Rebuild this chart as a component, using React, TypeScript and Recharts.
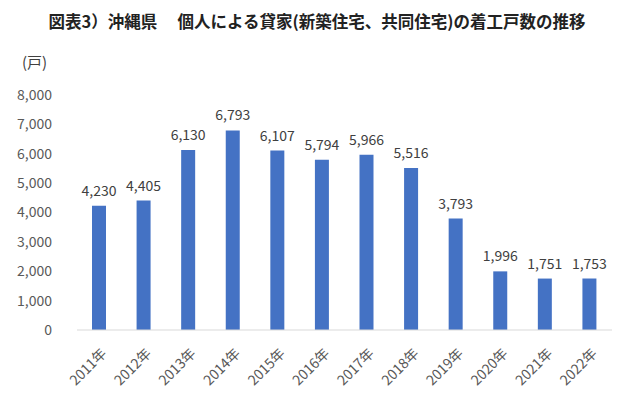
import React from 'react';
import { BarChart, Bar, XAxis, YAxis, LabelList } from 'recharts';

const years = ['2011年', '2012年', '2013年', '2014年', '2015年', '2016年', '2017年', '2018年', '2019年', '2020年', '2021年', '2022年'];
const starts = [4230, 4405, 6130, 6793, 6107, 5794, 5966, 5516, 3793, 1996, 1751, 1753];
const yTicks = [0, 1000, 2000, 3000, 4000, 5000, 6000, 7000, 8000];

const data = years.map((year, i) => ({ year, value: starts[i] }));

const font = '"Noto Sans CJK JP", "Noto Sans", sans-serif';

const XTick = (props: any) => {
  const { x, y, payload } = props;
  return (
    <text
      x={x + 4}
      y={y + 12}
      transform={`rotate(-45, ${x + 4}, ${y + 12})`}
      textAnchor="end"
      dominantBaseline="central"
      fontSize={14}
      fill="#595959"
      fontFamily={font}
    >
      {payload.value}
    </text>
  );
};

export default function App() {
  return (
    <div style={{ position: 'absolute', left: 0, top: 0, width: 617, height: 402, background: '#fff', fontFamily: font }}>
      <div style={{ position: 'absolute', top: 9, left: 0, width: 634, textAlign: 'center', fontSize: 16.5, fontWeight: 'bold', color: '#222' }}>
        図表3）沖縄県　 個人による貸家(新築住宅、共同住宅)の着工戸数の推移
      </div>
      <div style={{ position: 'absolute', top: 51, left: 22, fontSize: 15, color: '#404040' }}>(戸)</div>
      <BarChart
        width={617}
        height={402}
        data={data}
        margin={{ top: 95, right: 5, bottom: 12, left: 0 }}
        barSize={14}
      >
        <XAxis
          dataKey="year"
          tick={<XTick />}
          tickLine={false}
          axisLine={{ stroke: '#d9d9d9' }}
          interval={0}
          height={60}
        />
        <YAxis
          domain={[0, 8000]}
          ticks={yTicks}
          width={77}
          axisLine={false}
          tickLine={false}
          tickFormatter={(v: number) => v.toLocaleString('en-US')}
          tick={{ fontSize: 14, fill: '#595959', fontFamily: font }}
          tickMargin={19}
        />
        <Bar dataKey="value" fill="#4472C4" isAnimationActive={false}>
          <LabelList
            dataKey="value"
            position="top"
            offset={10}
            formatter={(v: any) => Number(v).toLocaleString('en-US')}
            style={{ fontSize: 14, fill: '#404040', fontFamily: font }}
          />
        </Bar>
      </BarChart>
    </div>
  );
}
